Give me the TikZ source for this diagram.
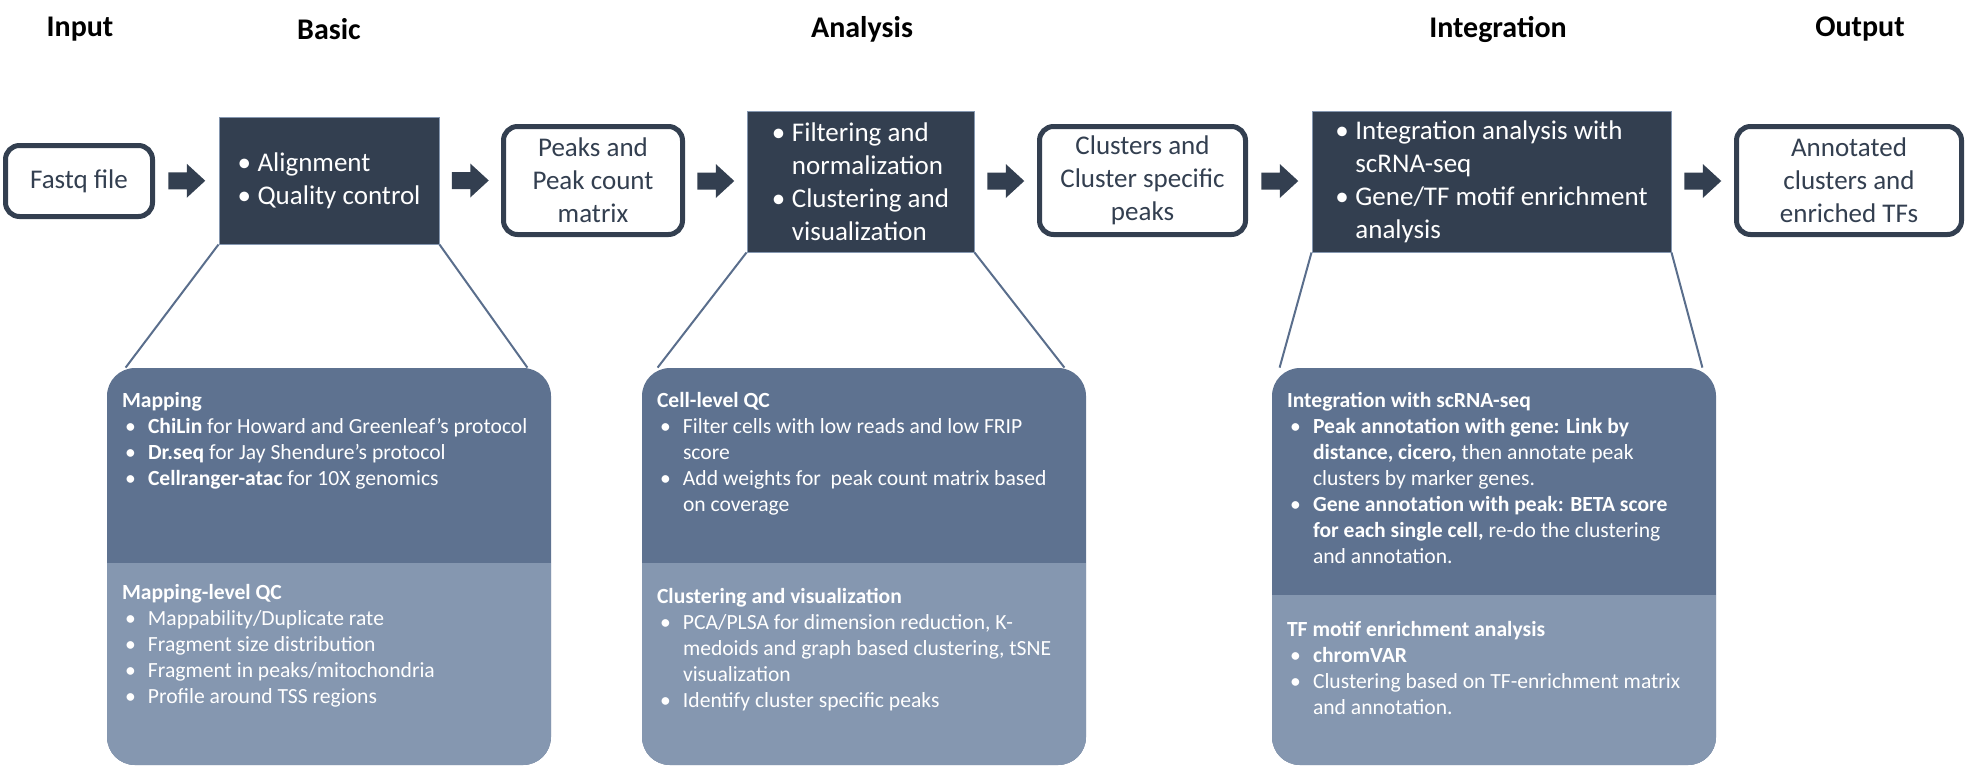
\documentclass[tikz,border=0pt]{standalone}
\usepackage{fontspec}
\setmainfont{Carlito}
\usetikzlibrary{calc}
\definecolor{FlowDark}{HTML}{333F50}
\definecolor{FlowTop}{HTML}{5E7290}
\definecolor{FlowLow}{HTML}{8597B0}
\definecolor{FlowLine}{HTML}{5A6E8C}

% bullets for the step boxes and for the panels
\newcommand{\bitem}{\makebox[10pt][l]{\textbullet}}
\newcommand{\bcont}{\hspace*{10pt}}
\newcommand{\pitem}{\hspace*{1.5pt}\makebox[11.5pt][l]{\textbullet}}
\newcommand{\pcont}{\hspace*{13pt}}

\tikzset{
  stagetitle/.style={font=\fontsize{15}{18}\selectfont\bfseries},
  databox/.style={draw=FlowDark,line width=2.5pt,rounded corners=7pt,fill=white,
    text=FlowDark,align=center,inner sep=0pt,font=\fontsize{13.5}{16.5}\selectfont},
  stepbox/.style={draw=FlowLow,line width=0.5pt,fill=FlowDark,text=white,
    align=left,inner sep=0pt,font=\fontsize{13.5}{16.5}\selectfont},
  panel/.style={fill=FlowTop,rounded corners=14pt,inner sep=0pt,
    minimum width=222pt,minimum height=198.5pt,
    path picture={\fill[FlowLow,sharp corners] ([yshift=-#1]path picture bounding box.north west)
      rectangle (path picture bounding box.south east);}},
  paneltext/.style={anchor=north west,align=left,text=white,inner sep=0pt,
    font=\fontsize{10.8}{13}\selectfont},
  zoomline/.style={draw=FlowLine,line width=1pt},
  blockarrow/.pic={\fill[FlowDark] (-9.25pt,-4.25pt) -- (0pt,-4.25pt) -- (0pt,-8.5pt)
    -- (9.25pt,0pt) -- (0pt,8.5pt) -- (0pt,4.25pt) -- (-9.25pt,4.25pt) -- cycle;}
}

\begin{document}
\begin{tikzpicture}[x=0.5pt,y=-0.5pt]
\path[use as bounding box] (0,0) rectangle (1968,766);

% stage titles
\node[stagetitle] (tin) at (80,29) {Input};
\node[stagetitle] (tbasic) at (329,29) {Basic};
\node[stagetitle] (tana) at (862,29) {Analysis};
\node[stagetitle] (tint) at (1498,29) {Integration};
\node[stagetitle] (tout) at (1860,29) {Output};

% main row
\node[databox,minimum width=73.5pt,minimum height=35.5pt] (fastq) at (79,181) {Fastq file};
\node[stepbox,minimum width=110pt,minimum height=63.5pt] (basic) at (329,180.5)
  {\bitem Alignment\\\bitem Quality control};
\node[databox,minimum width=89.5pt,minimum height=54pt] (peaks) at (593,180.5)
  {Peaks and\\Peak count\\matrix};
\node[stepbox,minimum width=113.5pt,minimum height=70.5pt] (analysis) at (860.5,181.5)
  {\bitem Filtering and\\\bcont normalization\\\bitem Clustering and\\\bcont visualization};
\node[databox,minimum width=103pt,minimum height=54pt] (clusters) at (1142.5,180.5)
  {Clusters and\\Cluster specific\\peaks};
\node[stepbox,minimum width=179.5pt,minimum height=70.5pt] (integ) at (1491.5,181.5)
  {\bitem Integration analysis with\\\bcont scRNA-seq\\\bitem Gene/TF motif enrichment\\\bcont analysis};
\node[databox,minimum width=112.5pt,minimum height=54pt] (output) at (1849,180.5)
  {Annotated\\clusters and\\enriched TFs};

% block arrows between the boxes
\pic at ($(fastq.east)!.5!(basic.west)$) {blockarrow};
\pic at ($(basic.east)!.5!(peaks.west)$) {blockarrow};
\pic at ($(peaks.east)!.5!(analysis.west)$) {blockarrow};
\pic at ($(analysis.east)!.5!(clusters.west)$) {blockarrow};
\pic at ($(clusters.east)!.5!(integ.west)$) {blockarrow};
\pic at ($(integ.east)!.5!(output.west)$) {blockarrow};

% detail panels
\node[panel=97.5pt] (mapp) at (329,566.5) {};
\node[panel=97.5pt] (cellqc) at (864,566.5) {};
\node[panel=113.5pt] (intpanel) at (1494,566.5) {};

\draw[zoomline] (basic.south west) -- ($(mapp.north west)+(19,0)$);
\draw[zoomline] (basic.south east) -- ($(mapp.north east)+(-24,0)$);
\draw[zoomline] (analysis.south west) -- ($(cellqc.north west)+(16,0)$);
\draw[zoomline] (analysis.south east) -- ($(cellqc.north east)+(-22,0)$);
\draw[zoomline] (integ.south west) -- ($(intpanel.north west)+(8,0)$);
\draw[zoomline] (integ.south east) -- ($(intpanel.north east)+(-14,0)$);

\node[paneltext] (mapptop) at ($(mapp.north west)+(15,24)$)
  {\textbf{Mapping}\\
   \pitem\textbf{ChiLin} for Howard and Greenleaf’s protocol\\
   \pitem\textbf{Dr.seq} for Jay Shendure’s protocol\\
   \pitem\textbf{Cellranger-atac} for 10X genomics};
\node[paneltext] (mapplow) at ($(mapp.north west)+(15,216)$)
  {\textbf{Mapping-level QC}\\
   \pitem Mappability/Duplicate rate\\
   \pitem Fragment size distribution\\
   \pitem Fragment in peaks/mitochondria\\
   \pitem Profile around TSS regions};

\node[paneltext] (cellqctop) at ($(cellqc.north west)+(15,24)$)
  {\textbf{Cell-level QC}\\
   \pitem Filter cells with low reads and low FRIP\\
   \pcont score\\
   \pitem Add weights for\ \ peak count matrix based\\
   \pcont on coverage};
\node[paneltext] (cellqclow) at ($(cellqc.north west)+(15,220)$)
  {\textbf{Clustering and visualization}\\
   \pitem PCA/PLSA for dimension reduction, K-\\
   \pcont medoids and graph based clustering, tSNE\\
   \pcont visualization\\
   \pitem Identify cluster specific peaks};

\node[paneltext] (inttop) at ($(intpanel.north west)+(15,24)$)
  {\textbf{Integration with scRNA-seq}\\
   \pitem\textbf{Peak annotation with gene: Link by}\\
   \pcont\textbf{distance, cicero,} then annotate peak\\
   \pcont clusters by marker genes.\\
   \pitem\textbf{Gene annotation with peak: BETA score}\\
   \pcont\textbf{for each single cell,} re-do the clustering\\
   \pcont and annotation.};
\node[paneltext] (intlow) at ($(intpanel.north west)+(15,253)$)
  {\textbf{TF motif enrichment analysis}\\
   \pitem\textbf{chromVAR}\\
   \pitem Clustering based on TF-enrichment matrix\\
   \pcont and annotation.};
\end{tikzpicture}
\end{document}
